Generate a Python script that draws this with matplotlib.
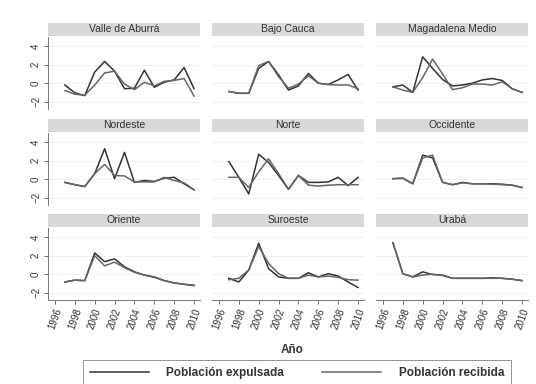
import numpy as np
import matplotlib
matplotlib.use("Agg")
import matplotlib.pyplot as plt
from matplotlib.patches import Rectangle

plt.rcParams['font.family'] = ['Liberation Sans', 'DejaVu Sans']

years = list(range(1997, 2011))
regions = ["Valle de Aburrá", "Bajo Cauca", "Magadalena Medio",
           "Nordeste", "Norte", "Occidente",
           "Oriente", "Suroeste", "Urabá"]

# población expulsada
expulsada = [
    [-0.2, -1.05, -1.35, 1.2, 2.35, 1.3, -0.6, -0.55, 1.4, -0.45, 0.1, 0.35, 1.7, -0.6],
    [-0.9, -1.1, -1.1, 1.6, 2.35, 0.9, -0.75, -0.3, 1.05, 0.0, -0.15, 0.35, 0.95, -0.75],
    [-0.4, -0.2, -1.0, 2.85, 1.6, 0.4, -0.3, -0.2, 0.0, 0.35, 0.5, 0.3, -0.6, -1.0],
    [-0.35, -0.6, -0.8, 0.6, 3.3, 0.05, 2.9, -0.35, -0.15, -0.25, 0.1, 0.2, -0.5, -1.15],
    [1.9, 0.2, -1.6, 2.7, 1.8, 0.4, -1.1, 0.4, -0.35, -0.35, -0.3, 0.2, -0.7, 0.2],
    [0.05, 0.1, -0.5, 2.6, 2.3, -0.35, -0.6, -0.35, -0.5, -0.5, -0.5, -0.55, -0.65, -0.9],
    [-0.85, -0.65, -0.7, 2.3, 1.35, 1.65, 0.8, 0.25, -0.1, -0.3, -0.7, -0.95, -1.1, -1.2],
    [-0.45, -0.85, 0.45, 3.35, 0.6, -0.3, -0.45, -0.45, 0.15, -0.3, 0.05, -0.2, -0.85, -1.45],
    [3.4, 0.05, -0.3, 0.25, -0.05, -0.1, -0.45, -0.45, -0.45, -0.45, -0.4, -0.45, -0.55, -0.7],
]
# población recibida
recibida = [
    [-0.8, -1.2, -1.3, -0.2, 1.1, 1.3, -0.1, -0.7, 0.1, -0.3, 0.2, 0.3, 0.5, -1.4],
    [-0.9, -1.1, -1.1, 1.9, 2.35, 0.7, -0.55, -0.1, 0.8, 0.0, -0.15, -0.2, -0.2, -0.6],
    [-0.4, -0.75, -1.0, 0.6, 2.6, 1.0, -0.7, -0.5, -0.1, -0.1, -0.2, 0.15, -0.6, -1.0],
    [-0.35, -0.6, -0.8, 0.6, 1.6, 0.4, 0.35, -0.3, -0.3, -0.3, 0.2, -0.15, -0.4, -1.15],
    [0.2, 0.2, -0.9, 0.8, 2.2, 0.6, -1.1, 0.4, -0.65, -0.75, -0.65, -0.6, -0.6, -0.6],
    [0.05, 0.1, -0.5, 2.3, 2.6, -0.35, -0.6, -0.4, -0.5, -0.5, -0.55, -0.6, -0.65, -0.9],
    [-0.85, -0.65, -0.7, 2.0, 0.9, 1.3, 0.7, 0.2, -0.1, -0.35, -0.7, -0.95, -1.1, -1.25],
    [-0.6, -0.45, 0.45, 3.0, 1.15, 0.05, -0.45, -0.45, -0.1, -0.3, -0.2, -0.35, -0.6, -0.65],
    [3.4, 0.05, -0.3, -0.1, 0.0, -0.15, -0.45, -0.45, -0.45, -0.45, -0.45, -0.45, -0.55, -0.7],
]

W, H = 536, 384
fig = plt.figure(figsize=(W / 100, H / 100), dpi=100)
fig.patch.set_facecolor("white")

col_left = [48, 212, 376]
row_top = [37, 133, 228]
pw, ph = 152, 72
c_exp = "#333333"
c_rec = "#666666"

for i, name in enumerate(regions):
    r, c = divmod(i, 3)
    x0, y0 = col_left[c], row_top[r]
    ax = fig.add_axes([x0 / W, 1 - (y0 + ph) / H, pw / W, ph / H])
    ax.plot(years, expulsada[i], color=c_exp, lw=1.1)
    ax.plot(years, recibida[i], color=c_rec, lw=1.1)
    ax.set_xlim(1995.3, 2010.6)
    ax.set_ylim(-2.8, 5.0)
    ax.set_yticks([-2, 0, 2, 4])
    ax.set_xticks(range(1996, 2011, 2))
    ax.grid(axis="y", color="#eeeeee", lw=0.6)
    ax.set_axisbelow(True)
    for s in ax.spines.values():
        s.set_visible(False)
    ax.tick_params(colors="#555555", labelcolor="#333333", labelsize=7,
                   length=3, width=0.6, pad=2)
    if c == 0:
        ax.spines["left"].set_visible(True)
        ax.spines["left"].set_color("#777777")
        ax.spines["left"].set_linewidth(0.7)
        for t in ax.get_yticklabels():
            t.set_rotation(90)
            t.set_va("center")
    else:
        ax.tick_params(axis="y", left=False, labelleft=False)
    if r == 2:
        ax.spines["bottom"].set_visible(True)
        ax.spines["bottom"].set_color("#777777")
        ax.spines["bottom"].set_linewidth(0.7)
        ax.set_xticklabels([str(y) for y in range(1996, 2011, 2)],
                           rotation=70, ha="center", va="top")
    else:
        ax.tick_params(axis="x", bottom=False, labelbottom=False)
    # strip
    sh = 13 / ph
    ax.add_patch(Rectangle((0, 1.02), 1, sh, transform=ax.transAxes,
                           facecolor="#d8d8d8", edgecolor="none", clip_on=False))
    ax.text(0.5, 1.02 + sh / 2, name, transform=ax.transAxes, ha="center",
            va="center", fontsize=7.5, color="#333333")

fig.text(292 / W, 1 - 350 / H, "Año", ha="center", va="center",
         fontsize=8.5, fontweight="bold", color="#333333")

h1, = plt.plot([], [], color=c_exp, lw=1.1)
h2, = plt.plot([], [], color=c_rec, lw=1.1)
leg = fig.legend([h1, h2], ["Población expulsada", "Población recibida"],
                 loc="upper center", bbox_to_anchor=(297 / W, 1 - 360 / H),
                 ncol=2, frameon=True, fancybox=False, edgecolor="#777777",
                 handlelength=5.0, columnspacing=3.2, handletextpad=1.5,
                 borderpad=0.6, borderaxespad=0,
                 prop={"size": 8.5, "weight": "bold"})
leg.get_frame().set_linewidth(0.7)
for t in leg.get_texts():
    t.set_color("#333333")

fig.savefig("out.png", dpi=100)
